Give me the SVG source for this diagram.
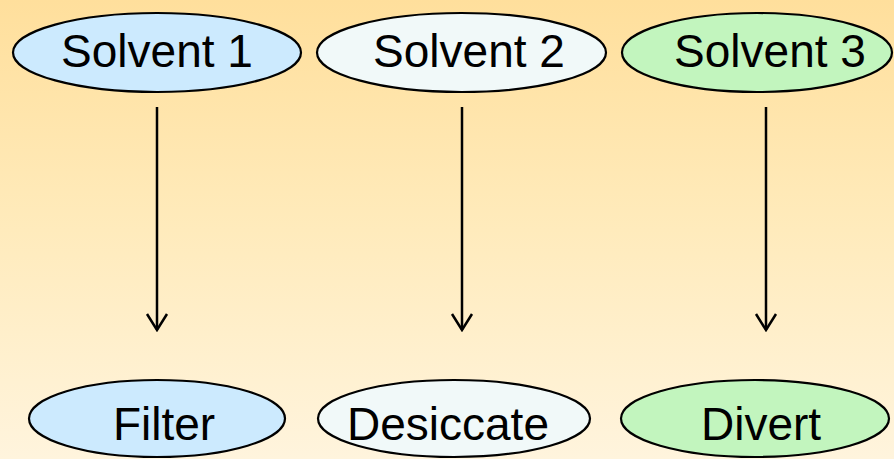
<svg xmlns="http://www.w3.org/2000/svg" width="894" height="459" viewBox="0 0 894 459">
  <defs>
    <linearGradient id="bg" x1="0" y1="0" x2="0" y2="1">
      <stop offset="0" stop-color="#FFDF9C"/>
      <stop offset="0.5" stop-color="#FFEBBC"/>
      <stop offset="1" stop-color="#FFF4DD"/>
    </linearGradient>
    <marker id="vhead" markerUnits="userSpaceOnUse" markerWidth="24" markerHeight="24" refX="22" refY="12" orient="auto" viewBox="0 0 24 24">
      <path d="M6 2 L22 12 L6 22" fill="none" stroke="#000" stroke-width="2.5"/>
    </marker>
    <style>
      .node ellipse { stroke: #000; stroke-width: 2.2; }
      .node text { font-family: "Liberation Sans", Arial, sans-serif; font-size: 46px; fill: #000; text-anchor: middle; }
      .blue { fill: #CCEAFE; }
      .pale { fill: #F1F9F9; }
      .green { fill: #C2F5BE; }
      .edges line { stroke: #000; stroke-width: 2.5; marker-end: url(#vhead); }
    </style>
  </defs>
  <rect width="894" height="459" fill="url(#bg)"/>

  <g class="edges">
    <line x1="157" y1="107" x2="157" y2="330"/>
    <line x1="462" y1="107" x2="462" y2="330"/>
    <line x1="766" y1="107" x2="766" y2="330"/>
  </g>

  <g id="solvent1" class="node">
    <ellipse class="blue" cx="157" cy="52.5" rx="144" ry="39.5"/>
    <text x="157" y="67">Solvent 1</text>
  </g>
  <g id="solvent2" class="node">
    <ellipse class="pale" cx="461.5" cy="52.5" rx="144.5" ry="39.5"/>
    <text x="469" y="67">Solvent 2</text>
  </g>
  <g id="solvent3" class="node">
    <ellipse class="green" cx="757" cy="52.5" rx="135" ry="39.5"/>
    <text x="770" y="67">Solvent 3</text>
  </g>
  <g id="filter" class="node">
    <ellipse class="blue" cx="157" cy="418.5" rx="128" ry="38.5"/>
    <text x="164" y="440">Filter</text>
  </g>
  <g id="desiccate" class="node">
    <ellipse class="pale" cx="454" cy="418.5" rx="136" ry="38.5"/>
    <text x="448" y="440">Desiccate</text>
  </g>
  <g id="divert" class="node">
    <ellipse class="green" cx="755" cy="418.5" rx="134" ry="38.5"/>
    <text x="761" y="440">Divert</text>
  </g>
</svg>
